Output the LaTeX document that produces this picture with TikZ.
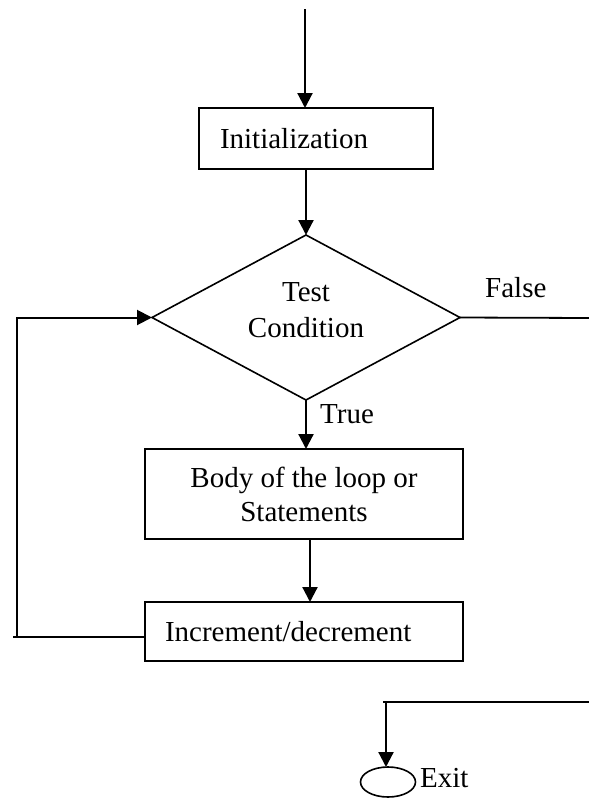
\documentclass[tikz,border=0pt]{standalone}
\usepackage{fontspec}
\setmainfont{Liberation Serif}
\usetikzlibrary{shapes.geometric,arrows.meta}
\begin{document}
\begin{tikzpicture}[x=1pt,y=-1pt,
  font=\fontsize{29}{34}\selectfont,
  stepbox/.style={draw, line width=1.7pt, inner ysep=0pt, outer sep=0pt},
  flow/.style={line width=2.2pt, -{Triangle[length=15pt,width=15pt]}},
  wire/.style={line width=1.8pt},
  tag/.style={inner sep=0pt, anchor=base west}]
\useasboundingbox (0,0) rectangle (589,798);

% process boxes
\node[stepbox, minimum width=234pt, minimum height=61pt, text width=192pt,
      inner xsep=21pt, align=left] (init) at (316,138.5) {Initialization};
\node[stepbox, minimum width=318pt, minimum height=90pt, inner xsep=0pt,
      align=center] (body) at (304,494) {Body of the loop or\\Statements};
\node[stepbox, minimum width=318pt, minimum height=59pt, text width=278pt,
      inner xsep=20pt, align=left] (incr) at (304,631.5) {Increment/decrement};

% decision
\node[draw, diamond, line width=1.6pt, minimum width=308pt, minimum height=165pt,
      inner sep=0pt, outer sep=0pt] (test) at (306,317.5) {};
\node[inner sep=0pt, align=center, font=\fontsize{29}{36}\selectfont]
      (testtxt) at (306,310) {Test\\Condition};

% terminator
\node[draw, ellipse, line width=1.6pt, minimum width=55pt, minimum height=30pt,
      inner sep=0pt, outer sep=0pt] (exit) at (388,782) {};

% labels
\node[tag] (exittxt) at (420,787) {Exit};
\node[tag] (truetxt) at (320,423) {True};
\node[tag] (falsetxt) at (485,297) {False};

% free ends of connectors
\coordinate (start) at (305,9);
\coordinate (falseend) at (589,318);
\coordinate (loopend) at (13,637);
\coordinate (loopturn) at (17,637);
\coordinate (exitstart) at (589,702);
\coordinate (exitcorner) at (383,702);
\coordinate (exitturn) at (386,702);

% connectors
\draw[flow] (start) -- (start |- init.north);
\draw[flow] (init.south -| test.north) -- (test.north);
\draw[flow] (test.south) -- (test.south |- body.north);
\draw[flow] ([xshift=6pt]body.south) -- ([xshift=6pt]incr.north);
\draw[wire] ([yshift=-5.5pt]incr.west) -- (loopend);
\draw[flow, line width=2pt] (loopturn) |- (test.west);
\draw[wire] (test.east) -- (falseend);
\draw[wire] (exitstart) -- (exitcorner);
\draw[flow] (exitturn) -- (exitturn |- exit.north);
\end{tikzpicture}
\end{document}
